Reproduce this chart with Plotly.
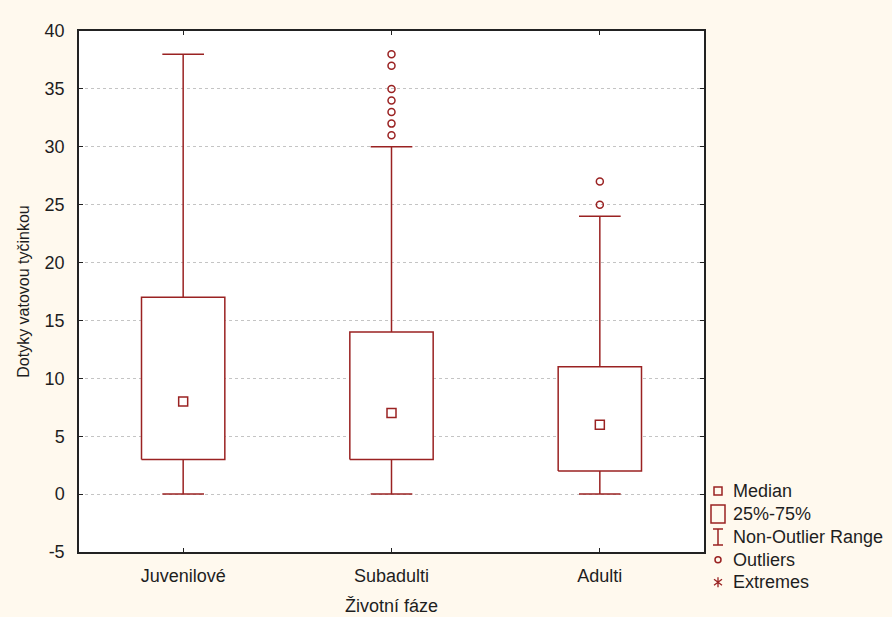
import plotly.graph_objects as go

# Summary statistics per life stage
categories = ["Juvenilové", "Subadulti", "Adulti"]
medians = [8, 7, 6]
q1 = [3, 3, 2]
q3 = [17, 14, 11]
whisker_low = [0, 0, 0]
whisker_high = [38, 30, 24]
outliers = [
    [],
    [31, 32, 33, 34, 35, 37, 38],
    [25, 27],
]

y_tick_values = [-5, 0, 5, 10, 15, 20, 25, 30, 35, 40]
y_tick_labels = ["-5", "0", "5", "10", "15", "20", "25", "30", "35", "40"]

legend_labels = ["Median", "25%-75%", "Non-Outlier Range", "Outliers", "Extremes"]

RED = "#9A2222"
BG = "#FFF9EE"
TXT = "#1E1E1E"
FONT = "Liberation Sans, Arial, sans-serif"

box_half = 0.2
cap_half = 0.1

fig = go.Figure()

for i, cat in enumerate(categories):
    # whiskers (below and above the box) with caps
    wx = [i, i, None, i - cap_half, i + cap_half, None,
          i, i, None, i - cap_half, i + cap_half]
    wy = [whisker_low[i], q1[i], None, whisker_low[i], whisker_low[i], None,
          q3[i], whisker_high[i], None, whisker_high[i], whisker_high[i]]
    fig.add_trace(go.Scatter(x=wx, y=wy, mode="lines",
                             line=dict(color=RED, width=1.5),
                             hoverinfo="skip", showlegend=False))
    # interquartile box
    bx = [i - box_half, i + box_half, i + box_half, i - box_half, i - box_half]
    by = [q1[i], q1[i], q3[i], q3[i], q1[i]]
    fig.add_trace(go.Scatter(x=bx, y=by, mode="lines", fill="toself",
                             fillcolor="white",
                             line=dict(color=RED, width=1.5),
                             name=cat, showlegend=False))
    # median marker
    fig.add_trace(go.Scatter(x=[i], y=[medians[i]], mode="markers",
                             marker=dict(symbol="square-open", size=9,
                                         color=RED, line=dict(width=1.5)),
                             showlegend=False))
    # outliers
    if outliers[i]:
        fig.add_trace(go.Scatter(x=[i] * len(outliers[i]), y=outliers[i],
                                 mode="markers",
                                 marker=dict(symbol="circle-open", size=7,
                                             color=RED, line=dict(width=1.5)),
                                 showlegend=False))

# Hand-built legend to the right of the plot area
leg_x_glyph = 1.0224
leg_x_text = 1.0432
leg_y = [0.117, 0.073, 0.029, -0.015, -0.058]

shapes = []
# Median: small square
shapes.append(dict(type="rect", xref="paper", yref="paper",
                   xsizemode="pixel", ysizemode="pixel",
                   xanchor=leg_x_glyph, yanchor=leg_y[0],
                   x0=-4, x1=4, y0=-4, y1=4,
                   line=dict(color=RED, width=1.5)))
# 25%-75%: tall box
shapes.append(dict(type="rect", xref="paper", yref="paper",
                   xsizemode="pixel", ysizemode="pixel",
                   xanchor=leg_x_glyph, yanchor=leg_y[1],
                   x0=-7, x1=7, y0=-9, y1=9,
                   line=dict(color=RED, width=1.5)))
# Non-outlier range: I-beam
shapes.append(dict(type="path", xref="paper", yref="paper",
                   xsizemode="pixel", ysizemode="pixel",
                   xanchor=leg_x_glyph, yanchor=leg_y[2],
                   path="M-5,-8 L5,-8 M0,-8 L0,8 M-5,8 L5,8",
                   line=dict(color=RED, width=1.5)))
# Outliers: small circle
shapes.append(dict(type="circle", xref="paper", yref="paper",
                   xsizemode="pixel", ysizemode="pixel",
                   xanchor=leg_x_glyph, yanchor=leg_y[3],
                   x0=-3, x1=3, y0=-3, y1=3,
                   line=dict(color=RED, width=1.5)))
# Extremes: asterisk
shapes.append(dict(type="path", xref="paper", yref="paper",
                   xsizemode="pixel", ysizemode="pixel",
                   xanchor=leg_x_glyph, yanchor=leg_y[4],
                   path="M0,-5 L0,5 M-4,-3 L4,3 M-4,3 L4,-3",
                   line=dict(color=RED, width=1.3)))

annotations = []
for lbl, y in zip(legend_labels, leg_y):
    annotations.append(dict(text=lbl, xref="paper", yref="paper",
                            x=leg_x_text, y=y, xanchor="left", yanchor="middle",
                            showarrow=False,
                            font=dict(family=FONT, size=18, color=TXT)))

fig.update_layout(
    width=892, height=617,
    margin=dict(l=79, r=188, t=31, b=65),
    paper_bgcolor=BG, plot_bgcolor="white",
    font=dict(family=FONT, size=18, color=TXT),
    shapes=shapes, annotations=annotations,
    showlegend=False,
)

fig.update_xaxes(
    range=[-0.5, 2.5], tickvals=list(range(len(categories))),
    ticktext=categories, ticks="inside", ticklen=4, tickcolor="#222",
    showline=True, linecolor="#222", linewidth=1.5, mirror="ticks",
    showgrid=False, zeroline=False, ticklabelstandoff=7, automargin=False,
    tickfont=dict(family=FONT, size=18, color=TXT),
    title=dict(text="Životní fáze", standoff=14,
               font=dict(family=FONT, size=18, color=TXT)),
)
fig.update_yaxes(
    range=[-5, 40], tickvals=y_tick_values, ticktext=y_tick_labels,
    ticks="inside", ticklen=4, tickcolor="#222",
    showline=True, linecolor="#222", linewidth=1.5, mirror="ticks",
    showgrid=True, gridcolor="#C4C4C4", griddash="dot", gridwidth=1,
    zeroline=False, ticklabelstandoff=9, automargin=False,
    tickfont=dict(family=FONT, size=18, color=TXT),
    title=dict(text="Dotyky vatovou tyčinkou", standoff=11,
               font=dict(family=FONT, size=16, color=TXT)),
)

fig.write_html("out.html")
